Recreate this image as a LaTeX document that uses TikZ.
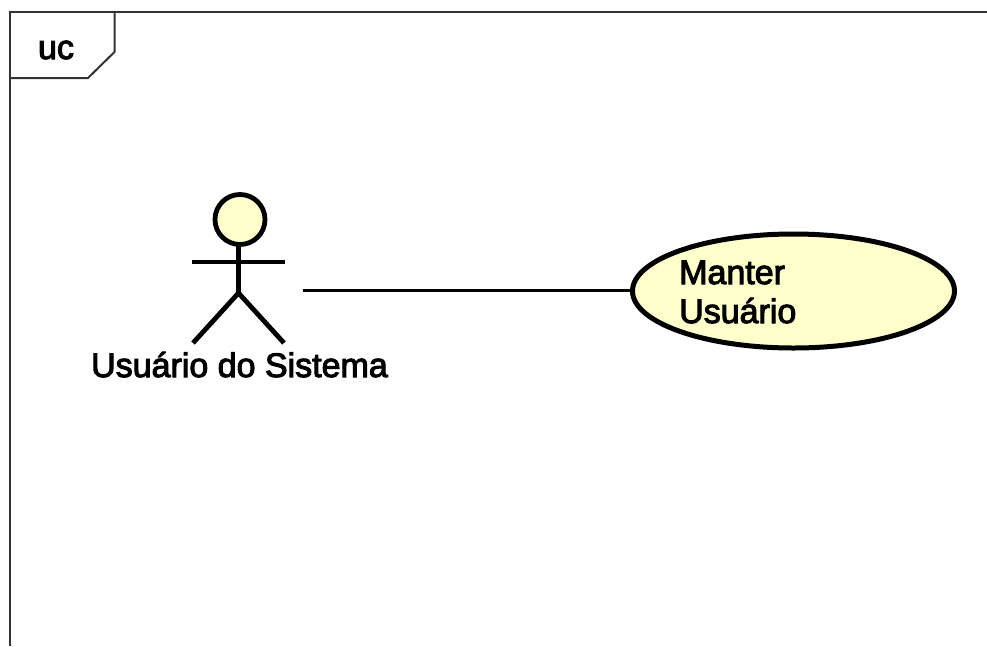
\documentclass[tikz,border=0pt]{standalone}
\usepackage{fontspec}
\setmainfont{Liberation Sans}
\newfontfamily\lblfont{Liberation Sans}[FakeBold=3]
\usetikzlibrary{shapes.geometric}
\definecolor{ucfill}{HTML}{FFFFCC}
\definecolor{framecol}{HTML}{333333}
\tikzset{
  framestroke/.style={draw=framecol,line width=2pt},
  actorstroke/.style={draw=black,line width=4.8pt},
  assoc/.style={draw=black,line width=2.2pt},
  lbl/.style={inner sep=0pt,text=black,font=\lblfont\fontsize{34}{40}\selectfont},
}
\begin{document}
\begin{tikzpicture}[x=1pt,y=-1pt]
\useasboundingbox (0,0) rectangle (987,646);
\fill[white] (0,0) rectangle (987,646);
% frame
\draw[framestroke] (10,646) -- (10,11.5) -- (987,11.5);
\draw[framestroke] (114.5,11.5) -- (114.5,52) -- (88,78) -- (10,78);
\node[lbl,anchor=base] (tag) at (56,59) {uc};
% actor
\node[circle,actorstroke,fill=ucfill,minimum size=50pt,inner sep=0pt] (head) at (240,219.5) {};
\coordinate (hip) at (238.5,293);
\coordinate (armL) at (192,262);
\coordinate (armR) at (285,262);
\coordinate (legL) at (193,343);
\coordinate (legR) at (284,343);
\draw[actorstroke] (238.5,244) -- (hip);
\draw[actorstroke] (armL) -- (armR);
\draw[actorstroke] (legL) -- (hip) -- (legR);
\node[lbl,anchor=base] (actorlabel) at (239.5,377) {Usuário do Sistema};
% use case
\node[ellipse,draw=black,line width=5pt,fill=ucfill,minimum width=322pt,minimum height=114pt,inner sep=0pt] (uc) at (793.5,291) {};
\node[lbl,anchor=base west] (t1) at (679,284) {Manter};
\node[lbl,anchor=base west] (t2) at (679,323) {Usuário};
% association
\coordinate (actorend) at (303,290.5);
\draw[assoc] (actorend) -- (uc.west |- actorend);
\end{tikzpicture}
\end{document}
